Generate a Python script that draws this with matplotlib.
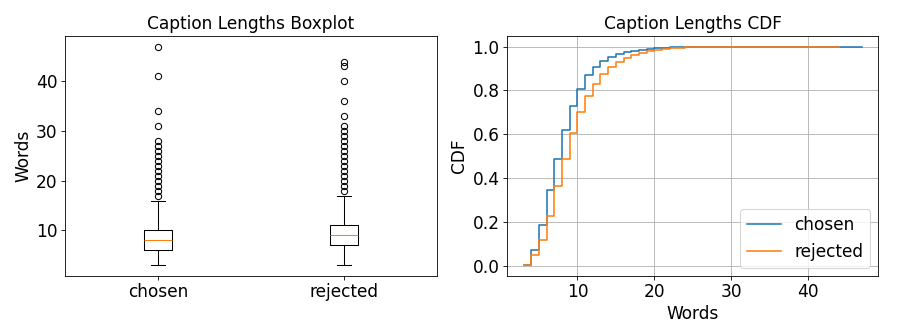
import matplotlib
matplotlib.use("Agg")
import matplotlib.pyplot as plt

# ---- Boxplot summary statistics (words per caption) ----
box_labels = ["chosen", "rejected"]
box_q1 = [6, 7]
box_median = [8, 9]
box_q3 = [10, 11]
box_whislo = [3, 3]
box_whishi = [16, 17]
chosen_fliers = [17, 18, 19, 20, 21, 22, 23, 24, 25, 26, 27, 28, 31, 34, 41, 47]
rejected_fliers = [18, 19, 20, 21, 22, 23, 24, 25, 26, 27, 28, 29, 30, 31,
                   33, 36, 40, 43, 44]

# ---- CDF values ----
chosen_words = list(range(3, 48))
chosen_cdf = [0.003, 0.070, 0.186, 0.344, 0.487, 0.618, 0.728, 0.808, 0.869,
              0.906, 0.935, 0.953, 0.965, 0.974, 0.980, 0.985, 0.989, 0.992,
              0.994, 0.996, 0.997, 0.998, 0.9985, 0.999, 0.9993, 0.9995,
              0.9995, 0.9995, 0.9996, 0.9996, 0.9996, 0.9997, 0.9997, 0.9997,
              0.9997, 0.9997, 0.9997, 0.9997, 0.9998, 0.9998, 0.9998, 0.9998,
              0.9998, 0.9998, 1.0]
rejected_words = list(range(3, 45))
rejected_cdf = [0.002, 0.046, 0.117, 0.225, 0.361, 0.487, 0.607, 0.703, 0.775,
                0.828, 0.877, 0.906, 0.930, 0.948, 0.962, 0.973, 0.980, 0.985,
                0.989, 0.992, 0.994, 0.996, 0.997, 0.998, 0.9985, 0.999,
                0.9993, 0.9995, 0.9996, 0.9996, 0.9997, 0.9997, 0.9997,
                0.9998, 0.9998, 0.9998, 0.9998, 0.9998, 0.9998, 0.9998,
                0.9999, 1.0]

DPI = 75
FS = 16.3
TFS = 16.3
plt.rcParams['font.family'] = ['DejaVu Sans']

fig = plt.figure(figsize=(897 / DPI, 336 / DPI), dpi=DPI)
ax1 = fig.add_axes([0.0725, 0.1786, 0.4147, 0.7152])
ax2 = fig.add_axes([0.565, 0.1786, 0.4143, 0.7152])

stats = []
fliers_all = [chosen_fliers, rejected_fliers]
for i, lab in enumerate(box_labels):
    stats.append(dict(label=lab, med=box_median[i], q1=box_q1[i], q3=box_q3[i],
                      whislo=box_whislo[i], whishi=box_whishi[i],
                      fliers=fliers_all[i]))
ax1.bxp(stats, showfliers=True,
        flierprops=dict(marker='o', markerfacecolor='none',
                        markeredgecolor='black', markersize=6))
ax1.set_title("Caption Lengths Boxplot", fontsize=TFS)
ax1.set_ylabel("Words", fontsize=FS)
ax1.tick_params(labelsize=FS)

ax2.step(chosen_words, chosen_cdf, where='post', label="chosen", color='#1f77b4')
ax2.step(rejected_words, rejected_cdf, where='post', label="rejected", color='#ff7f0e')
ax2.set_title("Caption Lengths CDF", fontsize=TFS)
ax2.set_xlabel("Words", fontsize=FS)
ax2.set_ylabel("CDF", fontsize=FS)
ax2.grid(True)
ax2.tick_params(labelsize=FS)
ax2.legend(loc='lower right', fontsize=FS)

fig.savefig("out.png", dpi=DPI)
